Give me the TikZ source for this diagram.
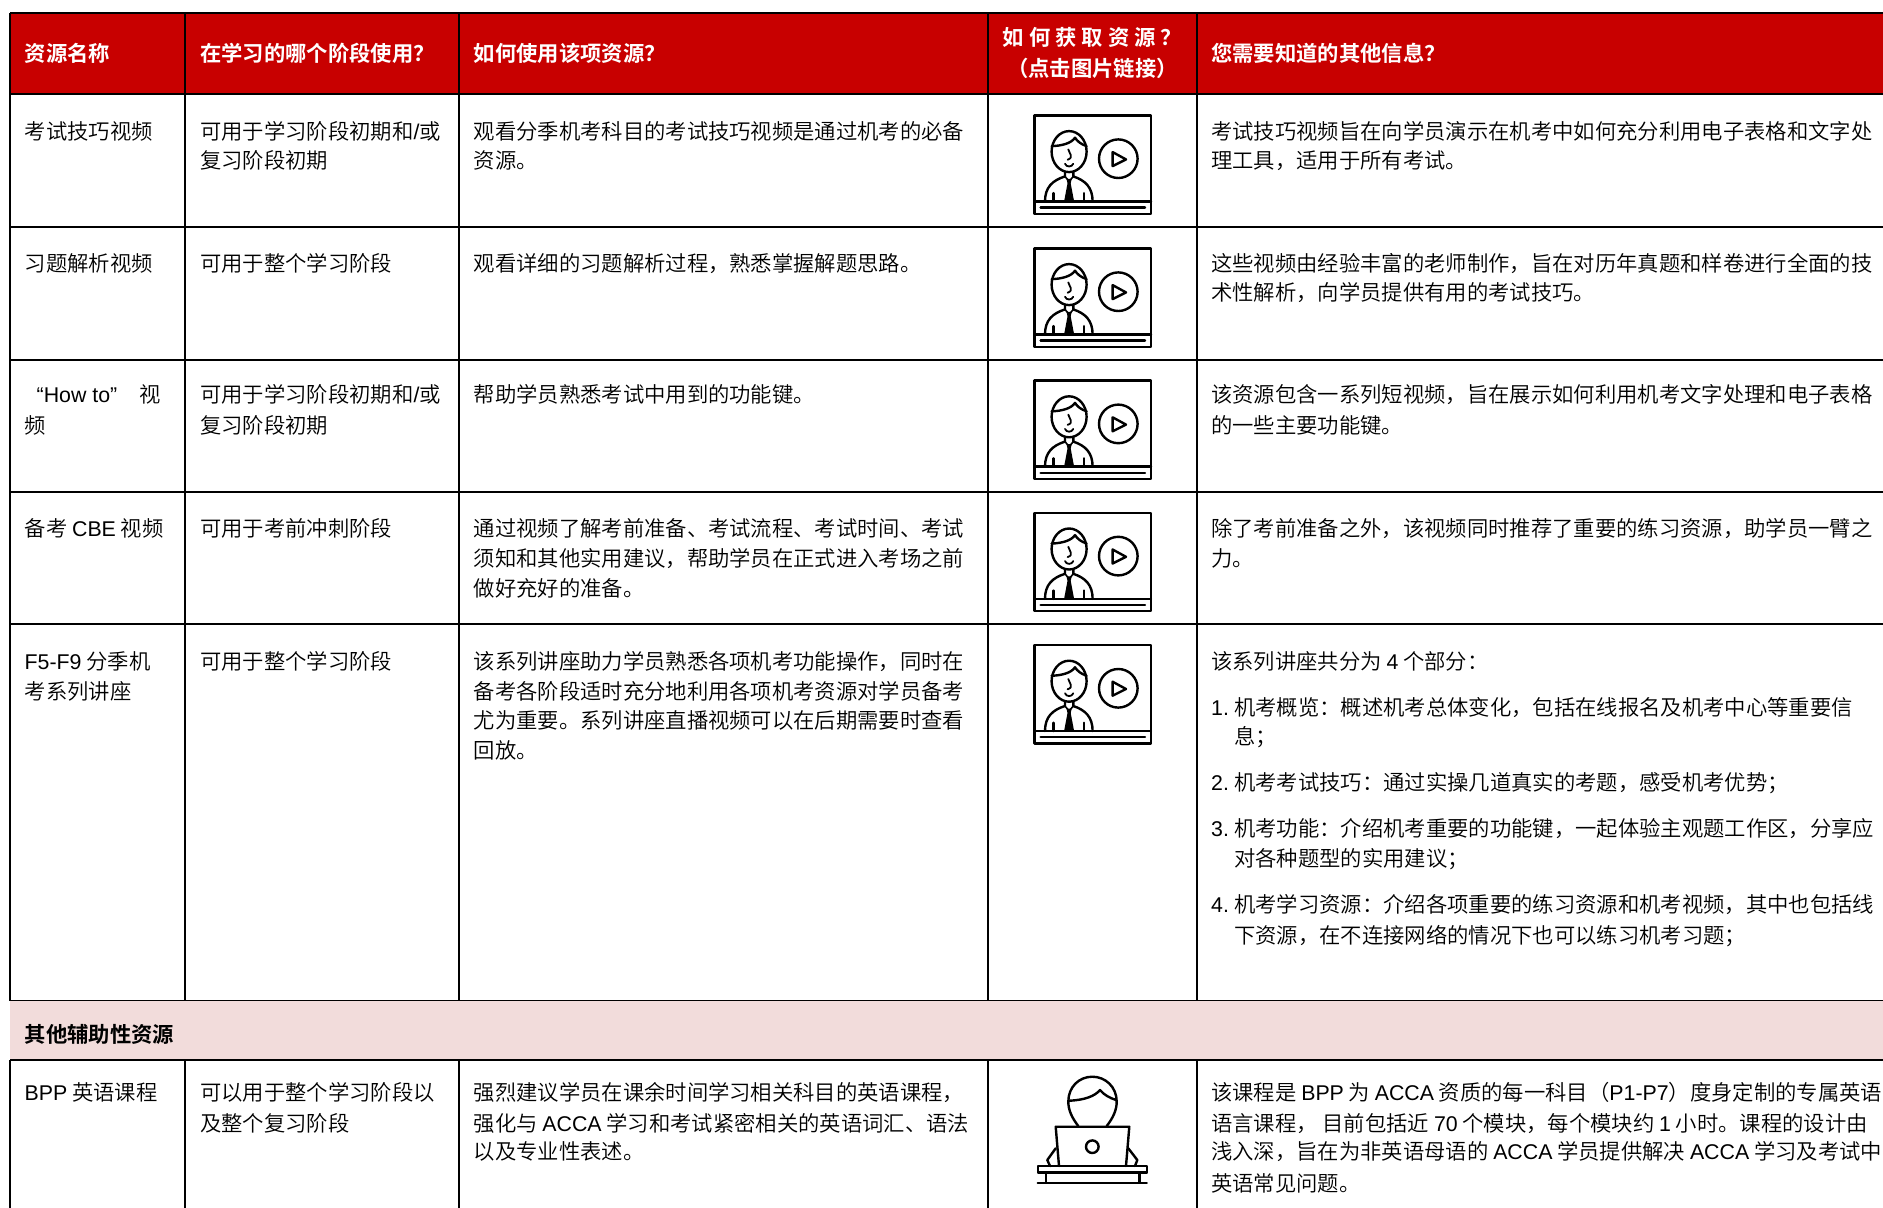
\documentclass[tikz,border=0pt]{standalone}
\usepackage{fontspec}
\setmainfont{Noto Sans CJK SC}[UprightFont=* DemiLight,BoldFont=* Bold]
\newfontfamily\latf{Liberation Sans}
\newcommand\La[1]{{\latf #1}}
\newcommand\fl{\rule{0pt}{20pt}}
\definecolor{hdrred}{HTML}{C80000}
\definecolor{secpink}{HTML}{F2DCDB}
\tikzset{
  cell/.style={anchor=north west,inner sep=0pt,align=left,text=black,font=\fontsize{21.33}{29.6}\selectfont},
  hcell/.style={anchor=west,inner sep=0pt,align=left,text=white,font=\fontsize{21.33}{29.6}\selectfont\bfseries},
  hcenter/.style={anchor=center,inner sep=0pt,align=center,text=white,font=\fontsize{21.33}{30.4}\selectfont\bfseries},
  rule/.style={line width=1.9pt,draw=black},
  thin rule/.style={line width=1.2pt,draw=black},
  icon/.style={line width=2.4pt,draw=black,line join=round,line cap=round},
}
\newcommand\videoicon[1]{%
\begin{scope}[shift={(1034.3,#1)},icon]
  \draw[line cap=butt] (0,0) rectangle (116.7,98.3);
  \draw (0,86) -- (116.7,86);
  \draw (6.3,92.2) -- (110.7,92.2);
  \draw (34.8,36.2) ellipse [x radius=17.5,y radius=20.5];
  \draw (17.3,30.7) .. controls (27,30.5) and (37,28) .. (40.7,22.3) .. controls (43,26) and (47,29) .. (52.3,30.7);
  \draw[line width=1.8pt] (34,34) .. controls (35,38) and (40,42) .. (33.3,44.3);
  \draw[line width=1.8pt] (30.7,48.3) .. controls (32,52) and (37.5,52) .. (39,48.3);
  \draw (10.7,86) .. controls (10.7,72) and (18,65) .. (30.7,61) -- (30.7,56.5);
  \draw (58.3,86) .. controls (58.3,72) and (51,65) .. (39,61) -- (39,56.5);
  \draw[line width=1.6pt] (30.7,61) -- (34.8,66) -- (39,61);
  \fill (29.8,86) -- (39.8,86) -- (36.4,68) -- (37.4,63.5) -- (32.2,63.5) -- (33.2,68) -- cycle;
  \draw (19,77.7) -- (19,86);
  \draw (49.7,77.7) -- (49.7,86);
  \draw (84,43.3) circle [radius=19.3];
  \draw (78.3,36.7) -- (91.7,44) -- (78.3,50.7) -- cycle;
\end{scope}}
\begin{document}
\begin{tikzpicture}[x=1pt,y=-1pt]
\useasboundingbox (0,0) rectangle (1883,1208);
\clip (0,0) rectangle (1883,1208);
% fills
\fill[hdrred] (10,13) rectangle (1883,93.5);
\fill[secpink] (10,1000.7) rectangle (1883,1059.5);
% rules
\draw[thin rule] (10,13) -- (1883,13);
\draw[rule] (10,93.8) -- (1883,93.8);
\foreach \yy in {227,359.7,491.9,623.9} \draw[rule] (10,\yy) -- (1883,\yy);
\draw[thin rule] (10,1000.7) -- (1883,1000.7);
\draw[rule] (10,1059.7) -- (1883,1059.7);
\foreach \xx in {185,459.2,988,1197} {
  \draw[rule] (\xx,13) -- (\xx,1001);
  \draw[rule] (\xx,1059.7) -- (\xx,1208);
}
\draw[thin rule] (10,13) -- (10,1001);
\draw[thin rule] (10,1059.7) -- (10,1208);
% header
\node[hcell] (h1) at (24.5,53) {资源名称};
\node[hcell] (h2) at (200,53) {在学习的哪个阶段使用？};
\node[hcell] (h3) at (473.5,53) {如何使用该项资源？};
\node[hcenter] (h4) at (1092.5,53) {如\kern5pt 何\kern5pt 获\kern5pt 取\kern5pt 资\kern5pt 源\kern5pt ？\\（点击图片链接）};
\node[hcell] (h5) at (1211,53) {您需要知道的其他信息？};
% row 1
\node[cell] (a1) at (24.5,119) {\fl 考试技巧视频};
\node[cell] (a2) at (200,119) {\fl 可用于学习阶段初期和\La{/}或\\复习阶段初期};
\node[cell] (a3) at (473.5,119) {\fl 观看分季机考科目的考试技巧视频是通过机考的必备\\资源。};
\node[cell] (a5) at (1211,119) {\fl 考试技巧视频旨在向学员演示在机考中如何充分利用电子表格和文字处\\理工具，适用于所有考试。};
% row 2
\node[cell] (b1) at (24.5,251) {\fl 习题解析视频};
\node[cell] (b2) at (200,251) {\fl 可用于整个学习阶段};
\node[cell] (b3) at (473.5,251) {\fl 观看详细的习题解析过程，熟悉掌握解题思路。};
\node[cell] (b5) at (1211,251) {\fl 这些视频由经验丰富的老师制作，旨在对历年真题和样卷进行全面的技\\术性解析，向学员提供有用的考试技巧。};
% row 3
\node[cell] (c1) at (24.5,382.5) {\fl \hbox to 136pt{\hspace{12pt}\La{“How to”}\hfill 视}\\[1pt]频};
\node[cell] (c2) at (200,382.5) {\fl 可用于学习阶段初期和\La{/}或\\[1pt]复习阶段初期};
\node[cell] (c3) at (473.5,382.5) {\fl 帮助学员熟悉考试中用到的功能键。};
\node[cell] (c5) at (1211,382.5) {\fl 该资源包含一系列短视频，旨在展示如何利用机考文字处理和电子表格\\[1pt]的一些主要功能键。};
% row 4
\node[cell] (d1) at (24.5,516.2) {\fl 备考 \La{CBE} 视频};
\node[cell] (d2) at (200,516.2) {\fl 可用于考前冲刺阶段};
\node[cell] (d3) at (473.5,516.2) {\fl 通过视频了解考前准备、考试流程、考试时间、考试\\须知和其他实用建议，帮助学员在正式进入考场之前\\[0.5pt]做好充好的准备。};
\node[cell] (d5) at (1211,516.2) {\fl 除了考前准备之外，该视频同时推荐了重要的练习资源，助学员一臂之\\力。};
% row 5
\node[cell] (e1) at (24.5,649.5) {\fl \La{F5-F9} 分季机\\考系列讲座};
\node[cell] (e2) at (200,649.5) {\fl 可用于整个学习阶段};
\node[cell] (e3) at (473.5,649.5) {\fl 该系列讲座助力学员熟悉各项机考功能操作，同时在\\备考各阶段适时充分地利用各项机考资源对学员备考\\尤为重要。系列讲座直播视频可以在后期需要时查看\\回放。};
\node[cell] (e5) at (1211,649.5) {\fl 该系列讲座共分为 \La{4} 个部分：\\[16pt]
\makebox[23pt][l]{\La{1.}}机考概览：概述机考总体变化，包括在线报名及机考中心等重要信\\
\hspace{23pt}息；\\[16pt]
\makebox[23pt][l]{\La{2.}}机考考试技巧：通过实操几道真实的考题，感受机考优势；\\[16pt]
\makebox[23pt][l]{\La{3.}}机考功能：介绍机考重要的功能键，一起体验主观题工作区，分享应\\[0.7pt]
\hspace{23pt}对各种题型的实用建议；\\[16.5pt]
\makebox[23pt][l]{\La{4.}}机考学习资源：介绍各项重要的练习资源和机考视频，其中也包括线\\[1pt]
\hspace{23pt}下资源，在不连接网络的情况下也可以练习机考习题；};
% section row
\node[anchor=west,inner sep=0pt,font=\fontsize{21.33}{29.6}\selectfont\bfseries,text=black] (s1) at (24.5,1034.3) {其他辅助性资源};
% BPP row
\node[cell] (f1) at (24.5,1080) {\fl \La{BPP} 英语课程};
\node[cell] (f2) at (200,1080) {\fl 可以用于整个学习阶段以\\[1.5pt]及整个复习阶段};
\node[cell] (f3) at (473.5,1080) {\fl 强烈建议学员在课余时间学习相关科目的英语课程，\\[1.5pt]强化与 \La{ACCA} 学习和考试紧密相关的英语词汇、语法\\[-1pt]以及专业性表述。};
\node[cell] (f5) at (1211,1080) {\fl 该课程是 \La{BPP} 为 \La{ACCA} 资质的每一科目（\La{P1-P7}）度身定制的专属英语\\[1.5pt]语言课程， 目前包括近 \La{70} 个模块，每个模块约 \La{1} 小时。课程的设计由\\[-1pt]浅入深，旨在为非英语母语的 \La{ACCA} 学员提供解决 \La{ACCA} 学习及考试中\\[2pt]英语常见问题。};
% icons
\videoicon{115.4}
\videoicon{248.4}
\videoicon{380.6}
\videoicon{512.8}
\videoicon{645}
% laptop icon
\begin{scope}[icon]
  \draw (1078.3,1126) .. controls (1072,1118) and (1068.3,1110) .. (1068.3,1101.7) .. controls (1068.3,1087) and (1079,1076.7) .. (1092.3,1076.7) .. controls (1105.5,1076.7) and (1116.7,1087) .. (1116.7,1101.7) .. controls (1116.7,1110) and (1113,1118) .. (1106.7,1126);
  \draw (1069.3,1100.7) .. controls (1085,1100) and (1095,1096) .. (1100,1090) .. controls (1104,1095) and (1110,1098) .. (1116,1100);
  \draw (1059,1166) -- (1055.7,1126.7) -- (1129.3,1126.7) -- (1126,1166);
  \draw (1092.3,1146.7) circle [radius=6.3];
  \draw (1055.7,1148.3) -- (1047.3,1160) -- (1050,1166);
  \draw (1128.3,1148.3) -- (1137.3,1160) -- (1135,1166);
  \draw (1037.7,1166) rectangle (1146.7,1172.7);
  \draw[line width=3pt,line cap=butt] (1037.7,1172.7) -- (1146.7,1172.7);
  \draw (1046,1172.7) -- (1046,1182.7);
  \draw (1139.3,1172.7) -- (1139.3,1182.7);
  \draw (1037.7,1182.7) -- (1146.7,1182.7);
\end{scope}
\end{tikzpicture}
\end{document}
